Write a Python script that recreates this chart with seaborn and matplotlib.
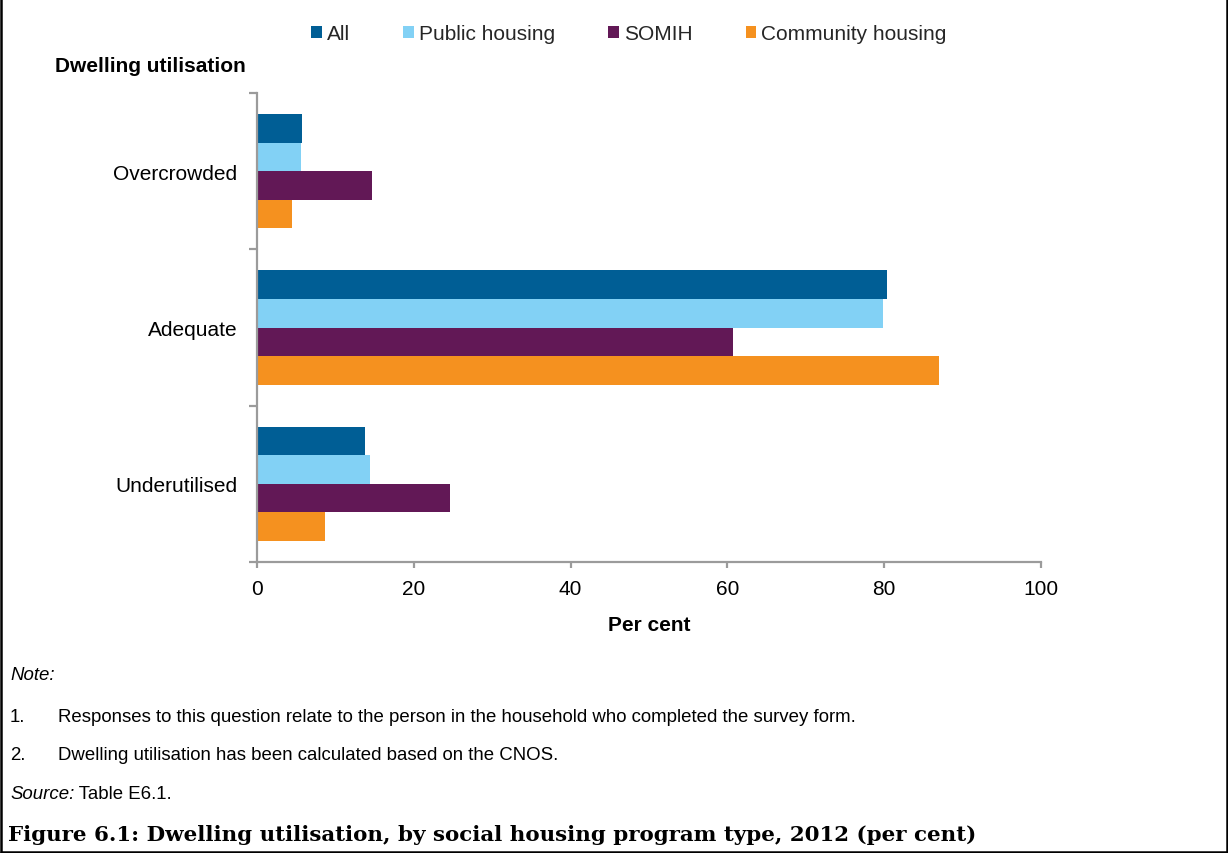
import numpy as np
import pandas as pd
import matplotlib
matplotlib.use("Agg")
import matplotlib.pyplot as plt
import seaborn as sns
from matplotlib.patches import Patch
from matplotlib.lines import Line2D

# Dwelling utilisation by social housing program type, 2012 (per cent)
categories = ["Overcrowded", "Adequate", "Underutilised"]
series = ["All", "Public housing", "SOMIH", "Community housing"]
all_vals = [5.8, 80.4, 13.8]
public_vals = [5.6, 79.9, 14.4]
somih_vals = [14.7, 60.7, 24.6]
community_vals = [4.5, 87.0, 8.7]
colors = ["#005E95", "#82D1F5", "#621856", "#F5911F"]
x_ticks = [0, 20, 40, 60, 80, 100]

sns.set_theme(style="white")
plt.rcParams["font.family"] = ["Liberation Sans", "DejaVu Sans"]

df = pd.DataFrame({
    "Dwelling utilisation": categories * len(series),
    "Program": np.repeat(series, len(categories)),
    "Per cent": all_vals + public_vals + somih_vals + community_vals,
})

W, H = 1228, 854
fig = plt.figure(figsize=(W / 100, H / 100), dpi=100)
ax = fig.add_axes([257 / W, 1 - 563 / H, 784 / W, 469 / H])

sns.barplot(
    data=df, x="Per cent", y="Dwelling utilisation", hue="Program",
    order=categories, hue_order=series, palette=colors, saturation=1,
    width=0.73, orient="h", linewidth=0, errorbar=None, legend=False, ax=ax,
)

axis_grey = "#9B9B9B"
ax.set_xlim(0, 100)
ax.set_ylim(2.5, -0.5)
ax.set_xticks(x_ticks)
ax.set_yticks([-0.5, 0.5, 1.5, 2.5], minor=True)
for side in ("top", "right"):
    ax.spines[side].set_visible(False)
for side in ("left", "bottom"):
    ax.spines[side].set_color(axis_grey)
    ax.spines[side].set_linewidth(1.6)

ax.tick_params(axis="y", which="major", left=False, length=0, pad=14,
               labelsize=15, labelcolor="black")
ax.tick_params(axis="y", which="minor", left=True, length=6, width=1.6,
               color=axis_grey)
ax.tick_params(axis="x", which="major", bottom=True, length=4.5, width=1.6,
               color=axis_grey, labelsize=15, labelcolor="black", pad=8)

ax.set_ylabel("")
ax.set_xlabel("Per cent", fontsize=15, fontweight="bold", color="black",
              labelpad=12)

fig.text(150 / W, 1 - 67 / H, "Dwelling utilisation", ha="center",
         va="center", fontsize=15, fontweight="bold", color="black")

handles = [Patch(facecolor=c, edgecolor="none") for c in colors]
fig.legend(handles, series, loc="center", bbox_to_anchor=(629 / W, 1 - 35 / H),
           ncol=4, frameon=False, fontsize=15, handlelength=0.5,
           handleheight=0.5, handletextpad=0.25, columnspacing=2.55,
           borderaxespad=0, borderpad=0)

# Notes and source below the chart
note_size = 13.4
fig.text(10 / W, 1 - 676 / H, "Note:", fontsize=note_size, style="italic",
         va="center", color="black")
fig.text(10 / W, 1 - 717 / H, "1.", fontsize=note_size, va="center", color="black")
fig.text(58 / W, 1 - 717 / H,
         "Responses to this question relate to the person in the household who completed the survey form.",
         fontsize=note_size, va="center", color="black")
fig.text(10 / W, 1 - 756 / H, "2.", fontsize=note_size, va="center", color="black")
fig.text(58 / W, 1 - 756 / H,
         "Dwelling utilisation has been calculated based on the CNOS.",
         fontsize=note_size, va="center", color="black")
src = fig.text(10 / W, 1 - 795 / H, "Source:", fontsize=note_size,
               style="italic", va="center", color="black")
ax.annotate(" Table E6.1.", xy=(1, 0), xycoords=src, ha="left", va="bottom",
            fontsize=note_size, color="black", annotation_clip=False)

fig.text(8 / W, 1 - 835 / H,
         "Figure 6.1: Dwelling utilisation, by social housing program type, 2012 (per cent)",
         fontsize=15.4, fontweight="bold", family="DejaVu Serif", va="center",
         color="black")

# Frame around the figure (left, right and bottom edges)
frame_kw = dict(color="black", linewidth=1.8, transform=fig.transFigure)
fig.add_artist(Line2D([1.2 / W, 1.2 / W], [1, 1 - 852.5 / H], **frame_kw))
fig.add_artist(Line2D([1226.5 / W, 1226.5 / W], [1, 1 - 852.5 / H], **frame_kw))
fig.add_artist(Line2D([1.2 / W, 1226.5 / W], [1 - 852.5 / H, 1 - 852.5 / H], **frame_kw))

fig.savefig("out.png", dpi=100, facecolor="white")
